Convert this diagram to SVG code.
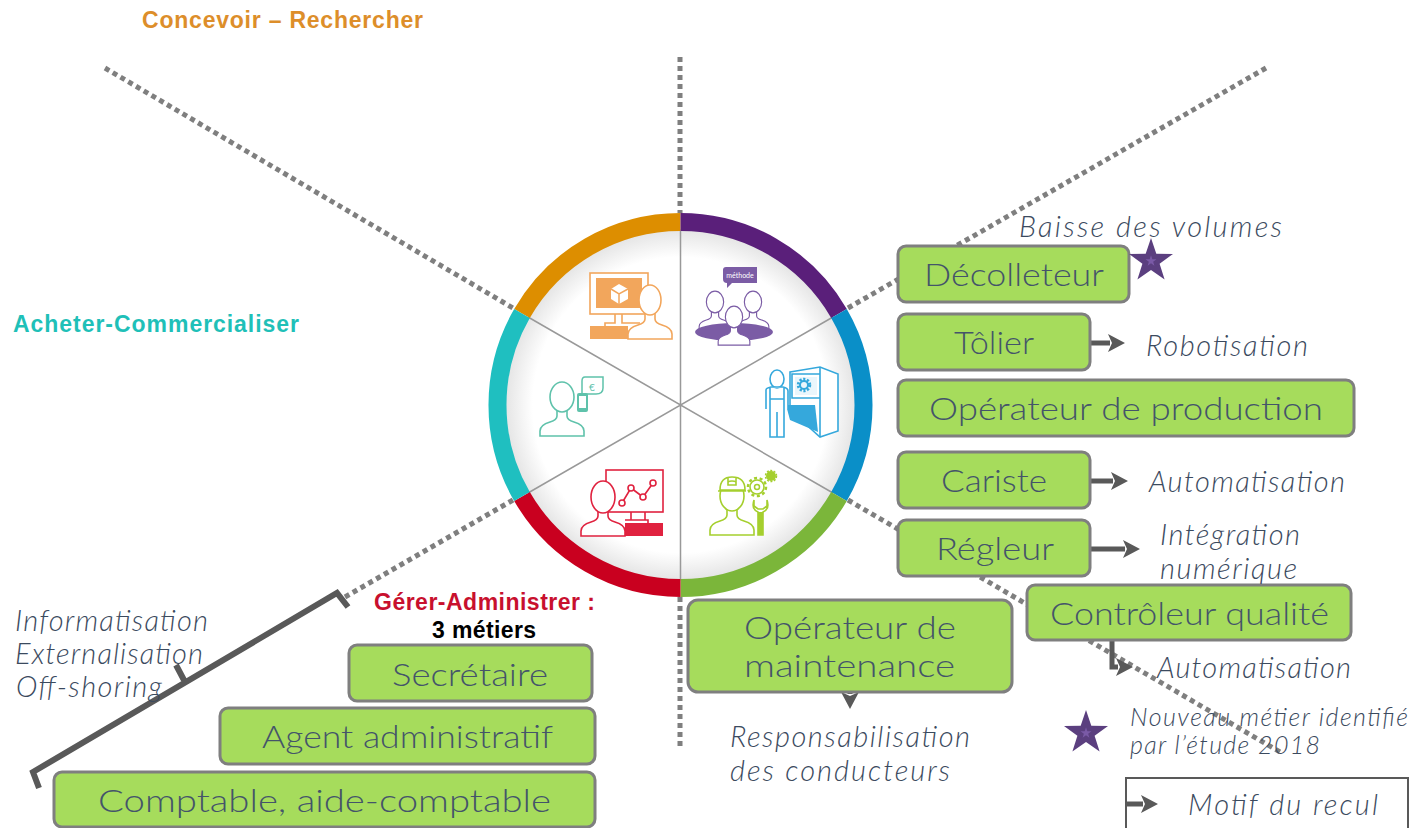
<svg xmlns="http://www.w3.org/2000/svg" width="1410" height="828" viewBox="0 0 1410 828">
<style>
.dot{fill:none;stroke:#7f7f7f;stroke-width:5;stroke-dasharray:5 4}
.box{fill:#a6dc5c;stroke:#7f7f7f;stroke-width:3}
.bt{font-family:"Lato","Noto Sans",sans-serif;font-weight:300;font-size:32px;fill:#44546a}
.it{font-family:"Lato","Noto Sans",sans-serif;font-weight:300;font-style:italic;font-size:29px;fill:#3b4a5e}
.ti{font-family:"Liberation Sans",Arial,sans-serif;font-weight:700;font-size:23px}
.arr{fill:none;stroke:#595959;stroke-width:5;marker-end:url(#ah)}
.ring{fill:none;stroke-width:18}
.sp{stroke:#999;stroke-width:1.5}
.ic{fill:#fff;stroke-width:1.6}
.star{fill:#5b3f7f}
.star2{fill:#7a5aa6}
</style>
<defs>
<radialGradient id="disc"><stop offset="0.84" stop-color="#fff"/><stop offset="1" stop-color="#e4e4e4"/></radialGradient>
<marker id="ah" markerUnits="userSpaceOnUse" markerWidth="20" markerHeight="20" refX="2" refY="9" orient="auto"><path d="M0 0L17 9L0 18L4 9Z" fill="#595959"/></marker>
<path id="person" d="M-5 13V19Q-5 23-12 25Q-22 28-22 34V39H22V34Q22 28 12 25Q5 23 5 19V13"/>
<polygon id="starShape" points="0,-23 5.3,-7.3 22,-7.1 8.6,2.8 13.6,18.6 0,9 -13.6,18.6 -8.6,2.8 -22,-7.1 -5.3,-7.3"/>
</defs>
<g id="connectors">
<path class="dot" d="M105 68L513 308"/>
<path class="dot" d="M680 57V213"/>
<path class="dot" d="M1266 68L848 308"/>
<path class="dot" d="M345 597L513 500"/>
<path class="dot" d="M680 597V748"/>
<path class="dot" d="M848 500L1280 752"/>
<path class="arr" d="M1090 343H1110"/>
<path class="arr" d="M1090 481H1113"/>
<path class="arr" d="M1090 549H1125"/>
<path class="arr" d="M1112 640V667H1118"/>
<path class="arr" d="M850 692V694"/>
<path class="arr" d="M1126 804H1143"/>
<path d="M348 607L337 593L33 772L39 788M185 682L176 665" fill="none" stroke="#595959" stroke-width="6"/>
</g>
<g id="wheel">
<circle cx="680.5" cy="405" r="176" fill="url(#disc)"/>
<path class="sp" d="M680.5 231V579M528 317L833 493M833 317L528 493"/>
<path class="ring" stroke="#dd8e00" d="M680.5 222A183 183 0 0 0 522 313.5"/>
<path class="ring" stroke="#5a1f7a" d="M680.5 222A183 183 0 0 1 839 313.5"/>
<path class="ring" stroke="#0a8fc8" d="M839 313.5A183 183 0 0 1 839 496.5"/>
<path class="ring" stroke="#7bb63a" d="M839 496.5A183 183 0 0 1 680.5 588"/>
<path class="ring" stroke="#c9001f" d="M680.5 588A183 183 0 0 1 522 496.5"/>
<path class="ring" stroke="#1fbfc0" d="M522 496.5A183 183 0 0 1 522 313.5"/>
</g>
<g id="icon-concevoir" stroke="#f2a65c">
<rect x="590" y="273" width="58" height="41" fill="#fff" stroke-width="1.6"/>
<rect x="596" y="278" width="46" height="30" fill="#f2a65c" stroke="none"/>
<path d="M615 314V323H605V326M622 314H622V323H640" fill="none" stroke-width="1.6"/>
<rect x="590" y="326" width="38" height="13" fill="#f2a65c" stroke="none"/>
<path d="M619 284L628 289V299L619 304L611 299V289Z" fill="#fff" stroke="none"/>
<path d="M611 289L619 294L628 289M619 294V304" fill="none" stroke="#f2a65c" stroke-width="1.5"/>
<g transform="translate(650 300)"><use href="#person" class="ic"/><ellipse rx="11" ry="15" class="ic"/></g>
</g>
<g id="icon-methode" stroke="#7b5ca5">
<path d="M726 267H757V283H732L727 288V283Q723 283 723 279V270Q723 267 726 267Z" fill="#7b5ca5" stroke="none"/>
<text x="740" y="278" font-family="Lato,'Noto Sans',sans-serif" font-size="7" fill="#fff" stroke="none" text-anchor="middle">méthode</text>
<g transform="translate(715 302) scale(.72)"><use href="#person" class="ic"/><ellipse rx="12" ry="15" class="ic"/></g>
<g transform="translate(753 302) scale(.72)"><use href="#person" class="ic"/><ellipse rx="12" ry="15" class="ic"/></g>
<ellipse cx="734" cy="332" rx="39" ry="9" fill="#7b5ca5" stroke="none"/>
<g transform="translate(734 317) scale(.72)"><use href="#person" class="ic"/><ellipse rx="12" ry="15" class="ic"/></g>
</g>
<g id="icon-produire" stroke="#35a8dc">
<path d="M790 372L820 367L838 374V431L820 437L790 410Z" fill="#fff" stroke-width="1.6"/>
<path d="M820 367V437M792 374H820V398H792Z" fill="none" stroke-width="1.6"/>
<rect x="795" y="377" width="22" height="18" fill="#eaf6fc" stroke="none"/>
<circle cx="804" cy="385" r="5.5" fill="none" stroke-width="3.5" stroke-dasharray="2 1.5"/>
<circle cx="804" cy="385" r="4" fill="none" stroke-width="2"/>
<path d="M786 405H815L818 432L790 420Z" fill="#35a8dc" stroke="none"/>
<ellipse cx="777" cy="379" rx="7" ry="9" class="ic"/>
<path d="M766 409V390Q766 388 771 387H783Q788 388 788 391V409M770 388V437H777V412V437H784V388M770 399H784" fill="#fff" stroke-width="1.6"/>
</g>
<g id="icon-installer" stroke="#a5cf2e">
<g transform="translate(732 496)"><use href="#person" class="ic"/><ellipse rx="12" ry="15" class="ic"/></g>
<path d="M720 490Q720 477 732 477Q745 477 745 490ZM718 491H746M728 478V485H736V478" fill="#fff" stroke-width="1.6"/>
<circle cx="757" cy="487" r="9" fill="none" stroke-width="2.5" stroke-dasharray="3 2.6"/>
<circle cx="757" cy="487" r="7" fill="none" stroke-width="1.6"/>
<circle cx="757" cy="487" r="2.5" fill="none" stroke-width="1.5"/>
<circle cx="771" cy="476" r="4" fill="#a5cf2e" stroke-width="2"/>
<circle cx="771" cy="476" r="5.5" fill="none" stroke-width="1.5" stroke-dasharray="2 1.5"/>
<path d="M754 500Q751 509 758 512V535H763V512Q770 509 767 500V506L763 509H758L754 506Z" fill="#fff" stroke-width="1.6"/>
<rect x="758" y="512" width="5" height="23" fill="#a5cf2e" stroke="none"/>
</g>
<g id="icon-gerer" stroke="#e0223f">
<rect x="606" y="470" width="57" height="42" fill="#fff" stroke-width="1.6"/>
<path d="M622 503L631 488L643 497L653 483" fill="none" stroke-width="1.6"/>
<g fill="#fff" stroke-width="1.6"><circle cx="622" cy="503" r="3"/><circle cx="631" cy="488" r="3"/><circle cx="643" cy="497" r="3"/><circle cx="653" cy="483" r="3"/></g>
<path d="M631 512V520M645 512V520H648V523M625 520H648" fill="none" stroke-width="1.6"/>
<rect x="625" y="523" width="38" height="13" fill="#e0223f" stroke="none"/>
<g transform="translate(603 497)"><use href="#person" class="ic"/><ellipse rx="12" ry="16" class="ic"/></g>
</g>
<g id="icon-acheter" stroke="#5fc2ab">
<g transform="translate(562 397)"><use href="#person" class="ic"/><ellipse rx="12" ry="15" class="ic"/></g>
<path d="M585 377H603V388Q603 394 596 394H582V381Q582 377 585 377Z" fill="#fff" stroke-width="1.5"/>
<text x="592" y="391" font-family="Lato,'Noto Sans',sans-serif" font-size="10" fill="#5fc2ab" stroke="none" text-anchor="middle">€</text>
<rect x="577" y="393" width="11" height="19" rx="2" fill="#5fc2ab" stroke="none"/>
<rect x="579" y="396" width="7" height="12" fill="#fff" stroke="none"/>
</g>
<g id="node-decolleteur"><rect class="box" x="898" y="246" width="231" height="56" rx="8"/><text class="bt" x="924" y="286" textLength="180" lengthAdjust="spacingAndGlyphs">Décolleteur</text></g>
<g id="node-tolier"><rect class="box" x="898" y="314" width="192" height="56" rx="8"/><text class="bt" x="954" y="354" textLength="80" lengthAdjust="spacingAndGlyphs">Tôlier</text></g>
<g id="node-operateur-production"><rect class="box" x="898" y="380" width="456" height="56" rx="8"/><text class="bt" x="929" y="420" textLength="394" lengthAdjust="spacingAndGlyphs">Opérateur de production</text></g>
<g id="node-cariste"><rect class="box" x="898" y="452" width="192" height="56" rx="8"/><text class="bt" x="941" y="492" textLength="106" lengthAdjust="spacingAndGlyphs">Cariste</text></g>
<g id="node-regleur"><rect class="box" x="898" y="520" width="192" height="56" rx="8"/><text class="bt" x="936" y="560" textLength="118" lengthAdjust="spacingAndGlyphs">Régleur</text></g>
<g id="node-controleur"><rect class="box" x="1027" y="585" width="324" height="55" rx="8"/><text class="bt" x="1050" y="625" textLength="279" lengthAdjust="spacingAndGlyphs">Contrôleur qualité</text></g>
<g id="node-maintenance"><rect class="box" x="688" y="600" width="324" height="92" rx="10"/><text class="bt" x="744" y="639" textLength="212" lengthAdjust="spacingAndGlyphs">Opérateur de</text><text class="bt" x="744" y="677" textLength="211" lengthAdjust="spacingAndGlyphs">maintenance</text></g>
<g id="node-secretaire"><rect class="box" x="349" y="645" width="243" height="56" rx="8"/><text class="bt" x="392" y="686" textLength="156" lengthAdjust="spacingAndGlyphs">Secrétaire</text></g>
<g id="node-agent"><rect class="box" x="220" y="708" width="375" height="56" rx="8"/><text class="bt" x="262" y="748" textLength="291" lengthAdjust="spacingAndGlyphs">Agent administratif</text></g>
<g id="node-comptable"><rect class="box" x="54" y="772" width="541" height="55" rx="8"/><text class="bt" x="98" y="812" textLength="453" lengthAdjust="spacingAndGlyphs">Comptable, aide-comptable</text></g>
<g id="legend"><path d="M1126 828V778H1408V828" fill="none" stroke="#595959" stroke-width="2"/></g>
<g id="stars">
<use href="#starShape" class="star" x="1151" y="261"/>
<use href="#starShape" class="star2" transform="translate(1151 261) scale(.25)"/>
<use href="#starShape" class="star" x="1086" y="733"/>
<use href="#starShape" class="star2" transform="translate(1086 733) scale(.25)"/>
</g>
<g id="labels">
<text class="ti" x="142" y="28" fill="#dd8e2a" textLength="281">Concevoir – Rechercher</text>
<text class="ti" x="13" y="332" fill="#1fc0b8" textLength="286">Acheter-Commercialiser</text>
<text class="ti" x="374" y="610" fill="#c8102e" textLength="221">Gérer-Administrer :</text>
<text class="ti" x="432" y="638" fill="#000" textLength="104">3 métiers</text>
<text class="it" x="1019" y="237" textLength="263">Baisse des volumes</text>
<text class="it" x="1146" y="356" textLength="162">Robotisation</text>
<text class="it" x="1149" y="492" textLength="196">Automatisation</text>
<text class="it" x="1160" y="545" textLength="140">Intégration</text>
<text class="it" x="1160" y="579" textLength="137">numérique</text>
<text class="it" x="1157" y="678" textLength="194">Automatisation</text>
<text class="it" x="1130" y="726" style="font-size:25px" textLength="278">Nouveau métier identifié</text>
<text class="it" x="1130" y="754" style="font-size:25px" textLength="190">par l’étude 2018</text>
<text class="it" x="1188" y="815" textLength="190">Motif du recul</text>
<text class="it" x="730" y="747" textLength="240">Responsabilisation</text>
<text class="it" x="730" y="781" textLength="220">des conducteurs</text>
<text class="it" x="15" y="631" textLength="193">Informatisation</text>
<text class="it" x="15" y="664" textLength="188">Externalisation</text>
<text class="it" x="16" y="697" textLength="146">Off-shoring</text>
</g>
</svg>
